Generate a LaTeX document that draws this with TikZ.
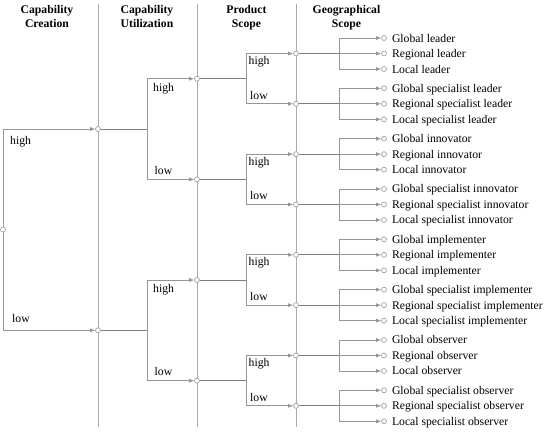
\documentclass[tikz,border=0pt]{standalone}
\usepackage{fontspec}
\setmainfont{Liberation Serif}
\usepackage{tikz}
\usetikzlibrary{
  arrows.meta,
  positioning,
  calc
}
\usepackage{xcolor}
\definecolor{rulegray}{RGB}{170,170,170}
\definecolor{branchgray}{RGB}{150,150,150}
\definecolor{stemgray}{RGB}{125,125,125}

\begin{document}
\begin{tikzpicture}[x=1pt, y=-1pt,
  every node/.style={font=\fontsize{11.7}{14}\selectfont},
  head/.style={font=\fontsize{11.7}{14.5}\selectfont\bfseries,
    align=center, anchor=north, inner sep=0pt},
  hub/.style={circle, draw=branchgray, fill=white, line width=0.6pt,
    inner sep=0pt, minimum size=5pt},
  branch/.style={draw=branchgray, line width=0.7pt,
    -{Latex[length=5pt,width=4pt]}},
  stem/.style={draw=stemgray, line width=1pt},
  colrule/.style={draw=rulegray, line width=0.8pt},
  choice/.style={anchor=base west, inner sep=0pt},
  leaf/.style={anchor=base west, inner sep=0pt}]

  \useasboundingbox (0,0) rectangle (544,434);

  % Column rules
  \foreach \cx in {98,197,296}
    \draw[colrule] (\cx,4) -- (\cx,427);

  % Column headings
  \node[head] (hCreation) at (47,4.8) {Capability\\Creation};
  \node[head] (hUtil) at (147,4.8) {Capability\\Utilization};
  \node[head] (hProduct) at (246.5,4.8) {Product\\Scope};
  \node[head] (hGeo) at (346.5,4.8) {Geographical\\Scope};

  % Decision points
  \node[hub] (root) at (3,229.5) {};
  \foreach \i in {0,1}
    \node[hub] (u\i) at (98,{129+201.3*\i}) {};
  \foreach \j in {0,...,3}
    \node[hub] (p\j) at (197,{78.7+100.66*\j}) {};
  \foreach \k in {0,...,7}
    \node[hub] (g\k) at (296,{53.5+50.33*\k}) {};

  % Capability creation
  \draw[branch] (root) |- (u0);
  \draw[branch] (root) |- (u1);
  \node[choice] at ($(root |- u0)+(7,15)$) {high};
  \node[choice] at ($(root |- u1)+(9,-7.5)$) {low};

  % Capability utilization
  \foreach \i in {0,1}{
    \pgfmathtruncatemacro\ja{2*\i}
    \pgfmathtruncatemacro\jb{2*\i+1}
    \draw[stem] (u\i) -- ++(49,0) coordinate (ku\i);
    \draw[branch] (ku\i) |- (p\ja);
    \draw[branch] (ku\i) |- (p\jb);
    \node[choice] at ($(ku\i |- p\ja)+(6,12.5)$) {high};
    \node[choice] at ($(ku\i |- p\jb)+(7.5,-5)$) {low};
  }

  % Product scope
  \foreach \j in {0,...,3}{
    \pgfmathtruncatemacro\ka{2*\j}
    \pgfmathtruncatemacro\kb{2*\j+1}
    \draw[stem] (p\j) -- ++(49,0) coordinate (kp\j);
    \draw[branch] (kp\j) |- (g\ka);
    \draw[branch] (kp\j) |- (g\kb);
    \node[choice] at ($(kp\j |- g\ka)+(2.5,11)$) {high};
    \node[choice] at ($(kp\j |- g\kb)+(4,-4.5)$) {low};
  }

  % Geographical scope
  \foreach \k/\role in {0/leader, 1/specialist leader, 2/innovator,
      3/specialist innovator, 4/implementer, 5/specialist implementer,
      6/observer, 7/specialist observer}{
    \draw[stem] (g\k) -- ++(43,0) coordinate (kg\k);
    \foreach \s/\reach in {-1/Global, 0/Regional, 1/Local}{
      \node[hub] (l\k\reach) at ($(g\k)+(88,15.5*\s)$) {};
      \draw[branch] (kg\k) |- (l\k\reach);
      \node[leaf] (t\k\reach) at ($(l\k\reach.east)+(5,4)$) {\reach{} \role};
    }
  }
\end{tikzpicture}
\end{document}
